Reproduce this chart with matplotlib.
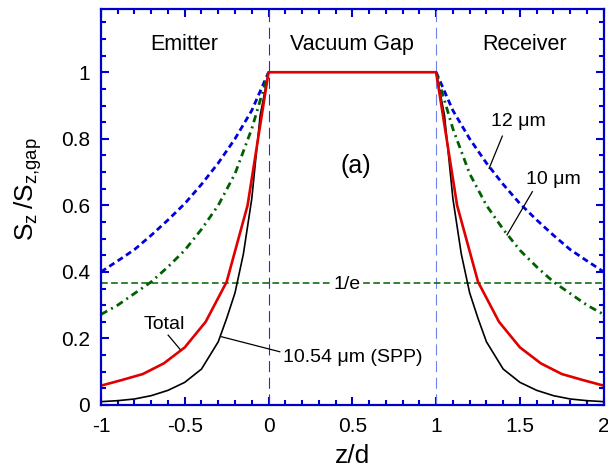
import numpy as np
import matplotlib
matplotlib.use('Agg')
import matplotlib.pyplot as plt

plt.rcParams['font.family'] = ['Liberation Sans', 'DejaVu Sans']
plt.rcParams['mathtext.default'] = 'regular'

# emitter side, z/d from -1 to 0 ; receiver side is the mirror image about z/d = 0.5
z_total = [-1.0, -0.875, -0.75, -0.625, -0.5, -0.375, -0.25, -0.125, 0.0]
s_total = [0.058, 0.075, 0.093, 0.125, 0.173, 0.25, 0.37, 0.60, 1.0]

z_spp = [-1.0, -0.9, -0.8, -0.7, -0.6, -0.5, -0.4, -0.3, -0.25, -0.2, -0.15, -0.1, -0.05, 0.0]
s_spp = [0.010, 0.013, 0.018, 0.028, 0.044, 0.068, 0.108, 0.19, 0.26, 0.337, 0.454, 0.62, 0.87, 1.0]

z_wl = [-1.0, -0.9, -0.8, -0.7, -0.6, -0.5, -0.4, -0.3, -0.2, -0.1, 0.0]
s_12um = [0.40, 0.433, 0.467, 0.51, 0.556, 0.605, 0.663, 0.727, 0.80, 0.885, 1.0]
s_10um = [0.272, 0.30, 0.335, 0.37, 0.415, 0.465, 0.528, 0.60, 0.695, 0.83, 1.0]

inv_e = 0.368


def both_sides(z, s):
    z = np.array(z)
    s = np.array(s)
    return z, s, 1 - z[::-1], s[::-1]


fig = plt.figure(figsize=(6.08, 4.74), dpi=100)
ax = fig.add_axes([0.166, 0.1456, 0.827, 0.8354])

blue = '#0000cc'

# region boundaries
ax.plot([0, 0], [0, 1.19], color='#1a2fe0', lw=0.8, dashes=(10, 5))
ax.plot([1, 1], [0, 1.19], color='#6f82ea', lw=0.8, dashes=(10, 5))

# 1/e level
ax.axhline(inv_e, color='#006000', lw=1.1, dashes=(4.4, 2.2))

za, sa, zb, sb = both_sides(z_wl, s_12um)
ax.plot(za, sa, color='#0000dd', lw=2.0, dashes=(2.2, 1.4))
ax.plot(zb, sb, color='#0000dd', lw=2.0, dashes=(2.2, 1.4))

za, sa, zb, sb = both_sides(z_wl, s_10um)
ax.plot(za, sa, color='#006000', lw=2.0, dashes=(2.6, 1.6, 0.7, 1.6))
ax.plot(zb, sb, color='#006000', lw=2.0, dashes=(2.6, 1.6, 0.7, 1.6))

za, sa, zb, sb = both_sides(z_spp, s_spp)
ax.plot(za, sa, color='black', lw=1.2)
ax.plot(zb, sb, color='black', lw=1.2)

# total: emitter + flat gap + receiver
za, sa, zb, sb = both_sides(z_total, s_total)
ax.plot(np.concatenate([za, zb]), np.concatenate([sa, sb]), color='#e00000', lw=1.9)

ax.set_xlim(-1, 2)
ax.set_ylim(0, 1.19)
ax.set_xticks([-1, -0.5, 0, 0.5, 1, 1.5, 2])
ax.set_xticklabels(['-1', '-0.5', '0', '0.5', '1', '1.5', '2'])
ax.set_xticks(np.arange(-1, 2.001, 0.1), minor=True)
ax.set_yticks([0, 0.2, 0.4, 0.6, 0.8, 1])
ax.set_yticklabels(['0', '0.2', '0.4', '0.6', '0.8', '1'])
ax.set_yticks(np.arange(0, 1.19, 0.05), minor=True)

for s in ax.spines.values():
    s.set_color(blue)
    s.set_linewidth(1.6)
ax.tick_params(which='both', direction='in', top=True, right=True, color=blue,
               width=1.5, labelsize=15)
ax.tick_params(which='major', length=6)
ax.tick_params(which='minor', length=3.5)
ax.tick_params(axis='x', pad=9)
ax.tick_params(axis='y', pad=8)

fig.text(0.579, 0.038, 'z/d', fontsize=19, ha='center', va='center')
fig.text(0.046, 0.60, r'$S_z\,/S_{z{,}gap}$', fontsize=19, ha='center', va='center',
         rotation=90)

# region names
ax.text(-0.5, 1.067, 'Emitter', fontsize=15.5, ha='center', va='baseline')
ax.text(0.5, 1.067, 'Vacuum Gap', fontsize=15.5, ha='center', va='baseline')
ax.text(1.53, 1.067, 'Receiver', fontsize=15.5, ha='center', va='baseline')
ax.text(0.52, 0.698, '(a)', fontsize=18, ha='center', va='baseline')

# curve labels with leader lines
ax.text(1.33, 0.838, '12 μm', fontsize=14, ha='left', va='baseline')
ax.plot([1.395, 1.316], [0.808, 0.711], color='black', lw=0.9)
ax.text(1.538, 0.664, '10 μm', fontsize=14, ha='left', va='baseline')
ax.plot([1.574, 1.423], [0.641, 0.511], color='black', lw=0.9)
ax.text(-0.622, 0.228, 'Total', fontsize=14, ha='center', va='baseline')
ax.plot([-0.599, -0.529], [0.21, 0.168], color='black', lw=0.9)
ax.text(0.087, 0.130, '10.54 μm (SPP)', fontsize=14, ha='left', va='baseline')
ax.plot([-0.28, 0.067], [0.205, 0.160], color='black', lw=0.9)
ax.text(0.467, 0.348, '1/e', fontsize=14, ha='center', va='baseline',
        bbox=dict(facecolor='white', edgecolor='none', pad=0.5))

fig.savefig('out.png', dpi=100)
